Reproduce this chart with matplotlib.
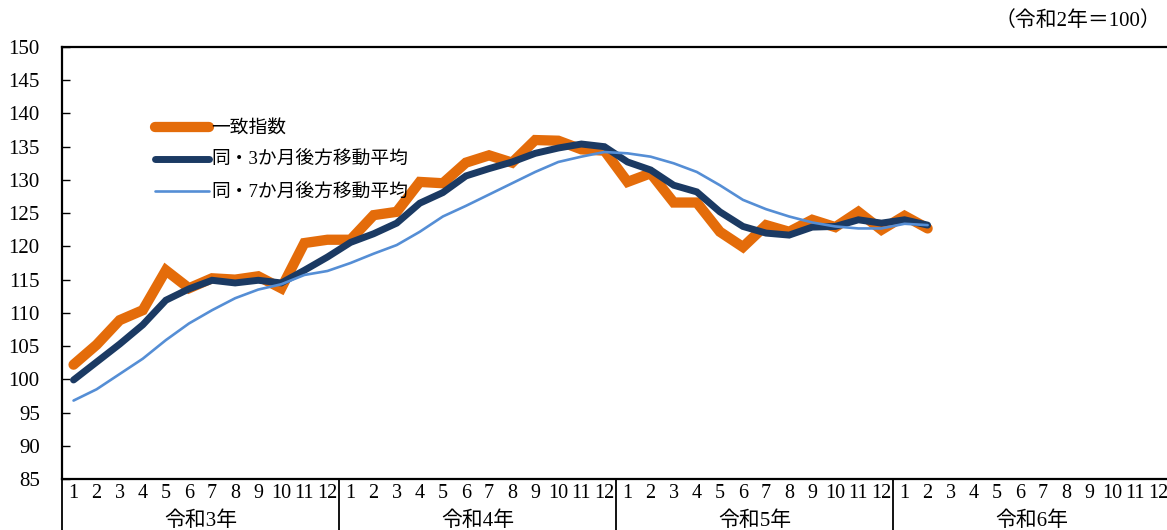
import matplotlib
matplotlib.use("Agg")
import matplotlib.pyplot as plt
from matplotlib.transforms import blended_transform_factory

plt.rcParams['font.family'] = ['Liberation Serif', 'Noto Sans CJK JP', 'DejaVu Sans']

years = ['令和3年', '令和4年', '令和5年', '令和6年']
months = [str(m) for m in range(1, 13)]

coincident = [102.2, 105.2, 108.9, 110.4, 116.4, 113.7, 115.2, 115.0, 115.5, 113.7, 120.5, 121.0,
              121.0, 124.7, 125.2, 129.7, 129.5, 132.6, 133.7, 132.6, 136.0, 135.9, 134.6, 134.4,
              129.7, 131.0, 126.6, 126.6, 122.2, 119.9, 123.2, 122.2, 124.0, 122.9, 125.2, 122.5,
              124.6, 122.7]
ma3 = [99.9, 102.6, 105.3, 108.2, 111.9, 113.6, 114.9, 114.5, 114.9, 114.5, 116.4, 118.4,
       120.6, 121.9, 123.5, 126.5, 128.1, 130.6, 131.7, 132.7, 134.0, 134.8, 135.4, 135.0,
       132.7, 131.5, 129.2, 128.2, 125.2, 123.0, 122.0, 121.7, 122.9, 123.0, 124.0, 123.5,
       124.0, 123.2]
ma7 = [96.8, 98.5, 100.8, 103.1, 105.9, 108.4, 110.4, 112.2, 113.5, 114.3, 115.7, 116.3,
       117.5, 118.9, 120.2, 122.2, 124.5, 126.1, 127.8, 129.5, 131.2, 132.7, 133.5, 134.2,
       134.0, 133.5, 132.5, 131.2, 129.2, 127.0, 125.6, 124.5, 123.6, 123.0, 122.7, 122.7,
       123.4, 123.2]
labels = ['一致指数', '同・3か月後方移動平均', '同・7か月後方移動平均']
yticks = list(range(85, 151, 5))

W, H = 1167, 530
fig = plt.figure(figsize=(W / 100, H / 100), dpi=100)
l, r, b, t = 62, 1170, 479, 47
ax = fig.add_axes([l / W, 1 - b / H, (r - l) / W, (b - t) / H])

n_total = len(years) * 12
x = list(range(len(coincident)))
ax.plot(x, coincident, color='#E46C0A', lw=7.4, solid_capstyle='round', solid_joinstyle='miter', label=labels[0], zorder=2)
ax.plot(x, ma3, color='#1B3A63', lw=5.0, solid_capstyle='round', solid_joinstyle='miter', label=labels[1], zorder=3)
ax.plot(x, ma7, color='#558ED5', lw=1.9, solid_capstyle='round', label=labels[2], zorder=4)

ax.set_xlim(-0.5, n_total - 0.5)
ax.set_ylim(85, 150)
ax.set_yticks(yticks)
ax.set_yticklabels([str(v) for v in yticks], fontsize=15)
ax.tick_params(axis='y', direction='in', length=6, width=1, pad=16)
ax.set_xticks([])
ax.spines['right'].set_visible(False)
for s in ['left', 'bottom', 'top']:
    ax.spines[s].set_linewidth(1.6)

trans = blended_transform_factory(ax.transData, ax.transAxes)
for i in range(n_total):
    ax.text(i, -0.034, months[i % 12], transform=trans, ha='center', va='center', fontsize=14.5)
for k, yl in enumerate(years):
    ax.text(k * 12 + 5.5, -0.097, yl, transform=trans, ha='center', va='center', fontsize=15)
for k in range(len(years) + 1):
    ax.plot([k * 12 - 0.5, k * 12 - 0.5], [0, -0.2], transform=trans, color='black', lw=1.3, clip_on=False)

leg = ax.legend(loc='upper left', bbox_to_anchor=((155 - l) / (r - l), (b - 120) / (b - t)),
                frameon=False, fontsize=13.5, handlelength=2.9, handletextpad=0.1,
                labelspacing=0.8, borderpad=0, borderaxespad=0)

fig.text(1161 / W, 1 - 21 / H, '（令和2年＝100）', ha='right', va='center', fontsize=15)

fig.savefig('out.png', dpi=100)
